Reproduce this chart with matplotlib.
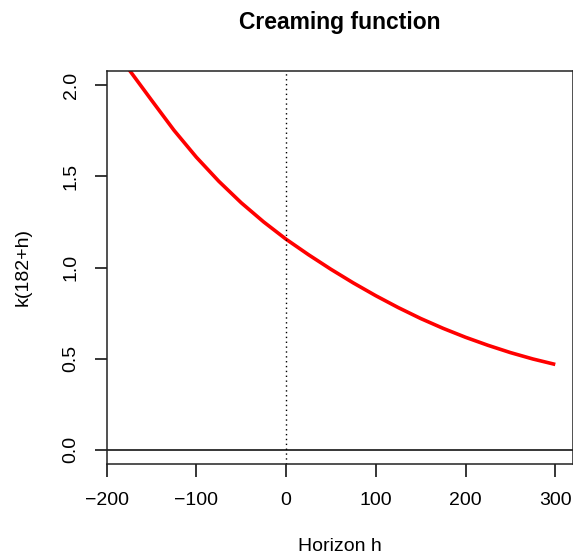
import numpy as np
import matplotlib
matplotlib.use("Agg")
import matplotlib.pyplot as plt

# values
horizon = [-180, -175, -150, -125, -100, -75, -50, -25, 0, 25, 50, 75,
           100, 125, 150, 175, 200, 225, 250, 275, 300]
creaming = [2.12, 2.085, 1.918, 1.753, 1.605, 1.473, 1.355, 1.25, 1.155, 1.07, 0.99, 0.915,
            0.845, 0.78, 0.72, 0.666, 0.617, 0.573, 0.533, 0.498, 0.468]

x_ticks = [-200, -100, 0, 100, 200, 300]
y_ticks = [0.0, 0.5, 1.0, 1.5, 2.0]

plt.rcParams["font.family"] = ["Liberation Sans", "DejaVu Sans"]

W, H = 573, 558
fig = plt.figure(figsize=(W / 100, H / 100), dpi=100)
ax = fig.add_axes([106.7 / W, 1 - 464.3 / H, (572.5 - 106.7) / W, (464.3 - 70.7) / H])

ax.plot(horizon, creaming, color="red", linewidth=2.6, solid_capstyle="butt",
        solid_joinstyle="round")
ax.axvline(0, color="black", linestyle=(0, (1, 2.5)), linewidth=1.0)
ax.axhline(0, color="black", linewidth=1.1)

ax.set_xlim(-199.2, 319.2)
ax.set_ylim(-0.08, 2.08)

ax.set_xticks(x_ticks)
ax.set_xticklabels(["\u2212200", "\u2212100", "0", "100", "200", "300"])
ax.set_yticks(y_ticks)
ax.set_yticklabels([f"{v:.1f}" for v in y_ticks], rotation=90, va="center")

ax.tick_params(axis="both", length=9, width=1.1, colors="black", labelsize=14)
ax.tick_params(axis="x", pad=11)
ax.tick_params(axis="y", pad=10.5)

for s in ax.spines.values():
    s.set_linewidth(1.1)
    s.set_color("#222222")

fig.text(339.6 / W, 1 - 22 / H, "Creaming function", ha="center", va="center",
         fontsize=16.5, fontweight="bold")
fig.text(339.6 / W, 1 - 546.7 / H, "Horizon h", ha="center", va="center", fontsize=14)
fig.text(23 / W, 1 - 267.5 / H, "k(182+h)", ha="center", va="center", fontsize=14,
         rotation=90)

fig.savefig("out.png", dpi=100)
